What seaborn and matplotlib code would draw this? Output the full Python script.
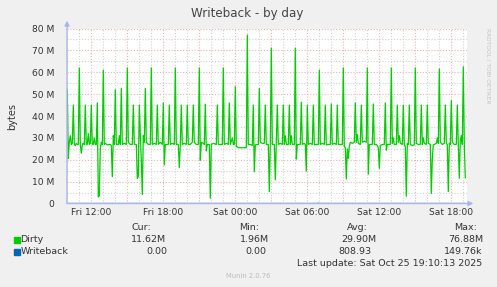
import matplotlib
matplotlib.use("Agg")
import matplotlib.pyplot as plt
import matplotlib.dates as mdates
import matplotlib.ticker as mticker
import numpy as np
import pandas as pd
import seaborn as sns

# ---------------- data ----------------
START = "2025-10-24 10:00"   # first sample (Fri 10:00)
STEP_MIN = 5                 # munin 5-minute samples

sample_idx = [
    0, 1, 2, 3, 4, 5, 6, 7, 8, 9, 10, 11, 12, 13, 14, 15, 16, 17,
    18, 19, 20, 21, 22, 23, 24, 25, 26, 27, 28, 29, 30, 31, 32, 33, 34, 35,
    36, 37, 38, 40, 42, 43, 44, 45, 46, 47, 48, 49, 51, 52, 53,
    54, 55, 57, 59, 60, 61, 63, 65, 66, 67, 69, 70, 71,
    72, 73, 74, 75, 76, 77, 78, 79, 81, 83, 84, 85, 87, 89,
    90, 91, 93, 95, 96, 97, 98, 101, 102, 103, 105, 107,
    108, 109, 111, 112, 113, 114, 115, 117, 119, 120, 121, 123, 125,
    126, 127, 129, 131, 132, 133, 134, 136, 137,
    138, 139, 140, 142, 143, 144, 146, 149, 150, 151, 153, 155,
    156, 157, 159, 161, 162, 163, 165, 166, 167,
    168, 169, 172, 175, 179, 180, 181, 183, 185,
    186, 187, 188, 191, 192, 193, 195, 197,
    198, 199, 201, 202, 203, 204, 205, 207, 208, 209,
    210, 211, 213, 215, 216, 217, 218, 219, 221,
    222, 223, 224, 225, 227, 228, 229, 230, 233,
    234, 235, 237, 238, 239, 240, 241, 243, 245,
    246, 247, 249, 251, 252, 253, 255, 257,
    258, 259, 261, 263, 264, 265, 267, 269,
    270, 271, 273, 275, 276, 277, 278, 279, 280, 281, 282, 283, 285, 287,
    288, 289, 290, 291, 293, 294, 295, 297, 299,
    300, 301, 302, 305, 306, 307, 309, 310, 311, 312, 313, 315, 317,
    318, 319, 320, 323, 324, 325, 326, 327, 329,
    330, 331, 332, 333, 335, 336, 337, 338, 339, 340, 341,
    342, 343, 345, 347, 348, 349, 351, 353,
    354, 355, 356, 357, 359, 360, 361, 363, 364, 365, 366, 369, 370, 371,
    372, 373, 375, 377, 378, 379, 380, 381, 382, 383,
    384, 385, 387, 389, 390, 391, 392, 393, 394, 395,
    396, 397, 398,
]

dirty_mb = [
    52, 20.6, 28, 31, 27, 27.5, 45, 27, 26.5, 27.5, 27, 27, 62, 27, 23, 27, 27.5, 27,
    45, 27, 27, 32, 27, 27.5, 45, 27, 27, 30, 27, 27, 46, 3, 3.5, 25, 28, 27,
    61, 27, 27.5, 26.8, 27, 27, 26.5, 12.3, 31, 27, 52, 27, 27, 31, 27,
    52.6, 27, 27.5, 27, 62, 28, 27, 27, 45, 27, 27, 11.5, 12.5,
    45, 31, 20, 4.1, 31, 28, 52.6, 28, 27, 27, 62, 27, 27.5, 27,
    45, 27, 28, 27, 46, 17.6, 27, 27, 45, 27, 27.5, 27,
    62, 27, 27, 16.4, 27, 45, 27, 27.5, 27, 45, 27, 27, 28,
    45, 28, 27, 27, 62, 19.8, 28, 27.5, 27,
    45.4, 24, 27, 27, 2.4, 27, 27.5, 27, 45, 27, 27, 27,
    62, 27, 27.5, 27, 46, 27, 30, 27, 27,
    53.4, 26, 25.5, 25.5, 25.5, 77, 27, 27, 26.5,
    45, 14.5, 26.8, 27, 52.6, 28, 27.5, 27.5,
    45, 27, 27, 5.4, 27, 71, 27, 27, 10.8, 27,
    45, 27, 27.5, 27, 45, 27, 31, 27, 27,
    45, 27, 31, 27, 27, 71, 20.3, 27, 27,
    46.3, 27, 27.5, 27, 14.8, 45, 27, 27.5, 27,
    45, 26.8, 27, 27, 61, 27, 27.5, 27,
    45, 26.8, 27, 27, 45.5, 27, 27.5, 27,
    45, 27, 27, 27, 62, 26, 25.5, 11.2, 25, 20.6, 26, 28, 27.5, 28,
    46, 28, 31.5, 27.5, 27, 45, 28, 28.5, 28,
    62, 13.4, 27, 27, 45.5, 27, 27, 26.5, 25.5, 16.1, 26.5, 27, 27,
    46, 24.4, 27, 27, 62, 27.5, 30, 27, 27,
    45, 28, 31, 27.5, 27, 45, 26.8, 26, 3.3, 27.5, 27,
    45, 27, 26.5, 26.8, 62, 27.5, 27, 27,
    45, 27, 30, 27.5, 27, 45, 27.5, 27, 4.6, 20.6, 26.8, 27.5, 30, 27.5,
    61.5, 28, 27, 27.5, 45, 27.5, 27, 5.4, 27.5, 27,
    47, 28, 27, 27, 45, 27, 11.5, 29, 31, 27,
    62.5, 27, 11.62,
]

writeback_idx = [0, 250, 251, 252, 398]
writeback_mb = [0.0, 0.0, 0.15, 0.0, 0.0]

series_names = ["Dirty", "Writeback"]
series_colors = ["#00CC00", "#0066B3"]
stat_headers = ["Cur:", "Min:", "Avg:", "Max:"]
dirty_stats = ["11.62M", "1.96M", "29.90M", "76.88M"]
writeback_stats = ["0.00", "0.00", "808.93", "149.76k"]
title = "Writeback - by day"
ylabel = "bytes"
last_update = "Last update: Sat Oct 25 19:10:13 2025"
footer = "Munin 2.0.76"
side_text = "RRDTOOL / TOBI OETIKER"

# ---------------- build frames ----------------
t0 = pd.Timestamp(START)
df_dirty = pd.DataFrame({
    "time": t0 + pd.to_timedelta(np.array(sample_idx) * STEP_MIN, unit="min"),
    "value": np.array(dirty_mb) * 1e6,
})
df_wb = pd.DataFrame({
    "time": t0 + pd.to_timedelta(np.array(writeback_idx) * STEP_MIN, unit="min"),
    "value": np.array(writeback_mb) * 1e6,
})

# ---------------- figure ----------------
sns.set_style("white")
plt.rcParams["font.family"] = ["DejaVu Sans"]

W, H = 497, 287
fig = plt.figure(figsize=(W / 100, H / 100), dpi=100)
fig.patch.set_facecolor("#F0F0F0")

def fx(x):
    return x / W

def fy(y):
    return 1 - y / H

ax_l, ax_r, ax_t, ax_b = 67, 467, 28.5, 203.5
ax = fig.add_axes([fx(ax_l), fy(ax_b), (ax_r - ax_l) / W, (ax_b - ax_t) / H])
ax.set_facecolor("white")

sns.lineplot(data=df_wb, x="time", y="value", color=series_colors[1], lw=0.9,
             ax=ax, legend=False, zorder=3)
sns.lineplot(data=df_dirty, x="time", y="value", color=series_colors[0], lw=0.9,
             ax=ax, legend=False, zorder=4)

xmin = t0 - pd.Timedelta(minutes=1.5)
xmax = t0 + pd.Timedelta(minutes=399.7 * STEP_MIN)
ax.set_xlim(xmin, xmax)
ax.set_ylim(0, 80e6)

# ticks / grid
ax.xaxis.set_major_locator(mdates.HourLocator(byhour=range(0, 24, 3)))
ax.xaxis.set_minor_locator(mdates.HourLocator())

def xfmt(v, pos):
    d = mdates.num2date(v)
    return d.strftime("%a %H:%M") if d.hour % 6 == 0 else ""

ax.xaxis.set_major_formatter(mticker.FuncFormatter(xfmt))
ax.yaxis.set_major_locator(mticker.MultipleLocator(10e6))
ax.yaxis.set_minor_locator(mticker.MultipleLocator(5e6))
ax.yaxis.set_major_formatter(mticker.FuncFormatter(
    lambda v, p: "0" if v == 0 else f"{v / 1e6:.0f} M"))

major_c = "#E8B4B4"
minor_c = "#D2D2D2"
ax.set_axisbelow(True)
ax.grid(which="major", axis="both", color=major_c, lw=0.8, ls=(0, (1, 1.6)))
ax.grid(which="minor", axis="both", color=minor_c, lw=0.8, ls=(0, (1, 1.6)))

ax.tick_params(axis="x", which="major", direction="in", length=3, width=0.8,
               color="#E08888", labelsize=6.6, labelcolor="#333333", pad=3)
ax.tick_params(axis="x", which="minor", direction="in", length=2, width=0.6,
               color="#BBBBBB")
ax.tick_params(axis="y", which="major", direction="out", length=2, width=0.8,
               color="#E08888", labelsize=6.6, labelcolor="#333333", pad=7)
ax.tick_params(axis="y", which="minor", direction="out", length=0)

ax.set_xlabel("")
ax.set_ylabel("")
for s in ax.spines.values():
    s.set_visible(False)

axis_c = "#A9B6EA"
ax.annotate("", xy=(1.016, 0), xytext=(0, 0), xycoords="axes fraction",
            textcoords="axes fraction", annotation_clip=False,
            arrowprops=dict(arrowstyle="-|>", color=axis_c, lw=1.0,
                            mutation_scale=7, shrinkA=0, shrinkB=0), zorder=6)
ax.annotate("", xy=(0, 1.045), xytext=(0, 0), xycoords="axes fraction",
            textcoords="axes fraction", annotation_clip=False,
            arrowprops=dict(arrowstyle="-|>", color=axis_c, lw=1.0,
                            mutation_scale=7, shrinkA=0, shrinkB=0), zorder=6)

# ---------------- texts ----------------
txt_c = "#333333"
fig.text(fx(247), fy(13), title, ha="center", va="center", fontsize=8.6, color="#444444")
fig.text(fx(12), fy(116), ylabel, ha="center", va="center", rotation=90,
         fontsize=7, color=txt_c)
fig.text(fx(488), fy(28), side_text, ha="center", va="top", rotation=270,
         fontsize=4.2, color="#C4C4C4")

leg_fs = 6.8
header_x = [131.7, 239, 346.7, 454.3]
for hx, h in zip(header_x, stat_headers):
    fig.text(fx(hx), fy(227.5), h, ha="left", va="center", fontsize=leg_fs, color=txt_c)

rows_y = [239.8, 251.7]
stat_cols_right = [
    [166.3, 269.5, 376.7, 483.3],
    [167.7, 266.7, 371.7, 482.7],
]
stats = [dirty_stats, writeback_stats]
for r, (name, col, ry) in enumerate(zip(series_names, series_colors, rows_y)):
    fig.patches.append(plt.Rectangle((fx(14), fy(ry + 3)), 5.5 / W, 6 / H,
                                     transform=fig.transFigure, color=col,
                                     figure=fig))
    fig.text(fx(20.5), fy(ry), name, ha="left", va="center", fontsize=leg_fs, color=txt_c)
    for xr, s in zip(stat_cols_right[r], stats[r]):
        fig.text(fx(xr), fy(ry), s, ha="right", va="center", fontsize=leg_fs, color=txt_c)

fig.text(fx(482.7), fy(263.3), last_update, ha="right", va="center",
         fontsize=leg_fs, color=txt_c)
fig.text(fx(248), fy(276), footer, ha="center", va="center", fontsize=4.9,
         color="#BBBBBB")

fig.savefig("out.png", dpi=100, facecolor=fig.get_facecolor())
